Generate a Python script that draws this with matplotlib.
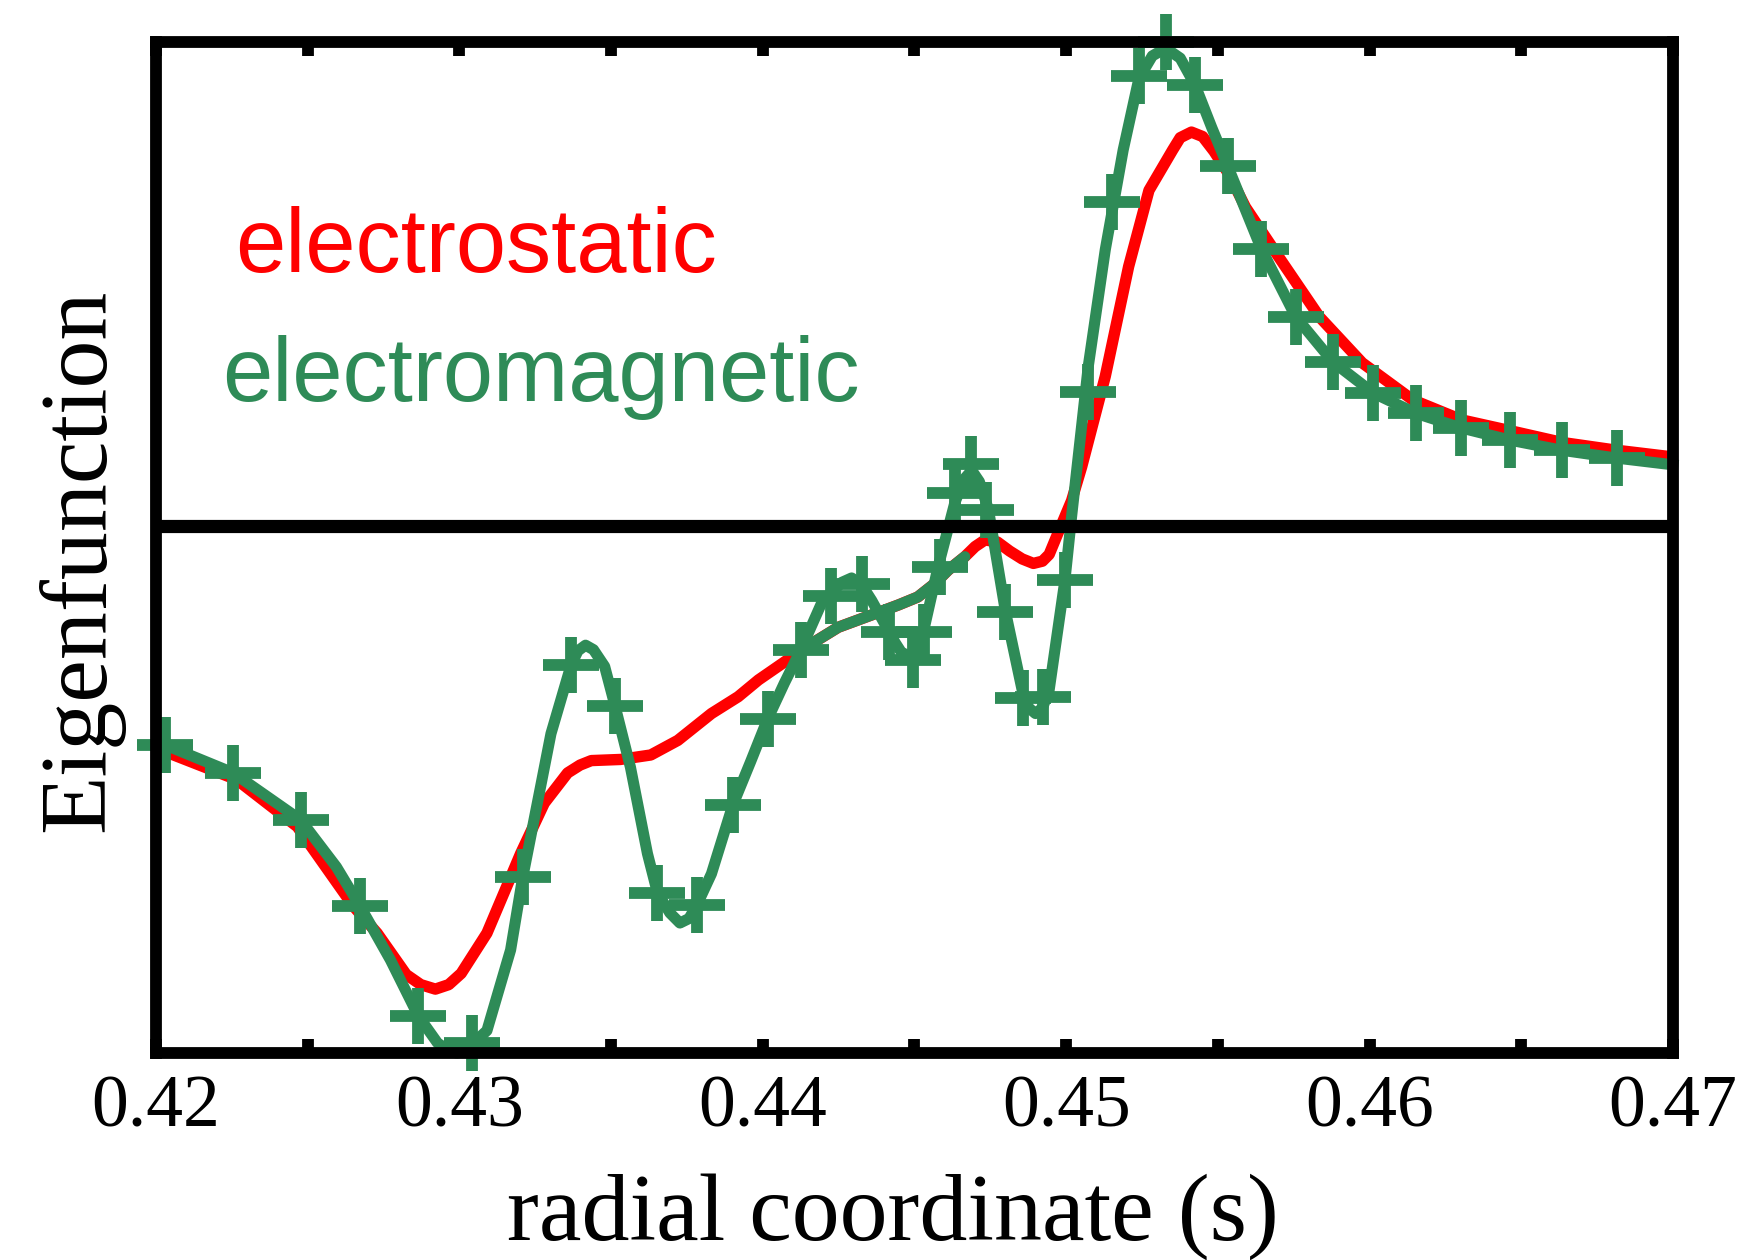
import matplotlib
matplotlib.use('Agg')
import matplotlib.pyplot as plt
from matplotlib.ticker import MultipleLocator

# electrostatic eigenfunction (red)
es_s = [0.42000, 0.42030, 0.42266, 0.42466, 0.42651, 0.42729, 0.42825, 0.42873,
        0.42921, 0.42965, 0.43006, 0.43091, 0.43202, 0.43280, 0.43357, 0.43398,
        0.43435, 0.43531, 0.43631, 0.43720, 0.43831, 0.43919, 0.43986, 0.44093,
        0.44171, 0.44249, 0.44359, 0.44448, 0.44511, 0.44567, 0.44611, 0.44666,
        0.44700, 0.44733, 0.44774, 0.44814, 0.44855, 0.44892, 0.44922, 0.44944,
        0.44973, 0.45018, 0.45051, 0.45129, 0.45206, 0.45273, 0.45351, 0.45376,
        0.45413, 0.45450, 0.45487, 0.45535, 0.45591, 0.45702, 0.45835, 0.45976,
        0.46142, 0.46305, 0.46471, 0.46634, 0.46815, 0.47000]
es_phi = [-1.98, -2.01, -2.26, -2.68, -3.39, -3.63, -4.00, -4.09,
          -4.13, -4.09, -3.99, -3.63, -2.92, -2.47, -2.20, -2.13,
          -2.09, -2.08, -2.04, -1.91, -1.67, -1.52, -1.37, -1.17,
          -1.03, -0.90, -0.79, -0.70, -0.63, -0.51, -0.39, -0.27,
          -0.18, -0.12, -0.14, -0.22, -0.29, -0.33, -0.31, -0.25,
          -0.06, 0.23, 0.53, 1.34, 2.32, 3.00, 3.36, 3.47,
          3.52, 3.48, 3.35, 3.15, 2.85, 2.40, 1.87, 1.46,
          1.13, 0.95, 0.85, 0.75, 0.68, 0.62]

# electromagnetic eigenfunction (green)
em_s = [0.42000, 0.42030, 0.42255, 0.42477, 0.42595, 0.42673, 0.42773, 0.42865,
        0.42928, 0.42965, 0.42991, 0.43017, 0.43043, 0.43091, 0.43169, 0.43209,
        0.43268, 0.43302, 0.43368, 0.43391, 0.43416, 0.43442, 0.43479, 0.43513,
        0.43564, 0.43620, 0.43653, 0.43694, 0.43727, 0.43757, 0.43783, 0.43831,
        0.43901, 0.43960, 0.44016, 0.44071, 0.44126, 0.44193, 0.44260, 0.44293,
        0.44326, 0.44359, 0.44437, 0.44456, 0.44482, 0.44504, 0.44533, 0.44578,
        0.44633, 0.44663, 0.44689, 0.44714, 0.44744, 0.44800, 0.44855, 0.44877,
        0.44899, 0.44922, 0.44944, 0.44996, 0.45018, 0.45073, 0.45129, 0.45188,
        0.45240, 0.45284, 0.45328, 0.45376, 0.45425, 0.45480, 0.45532, 0.45643,
        0.45757, 0.45879, 0.46013, 0.46153, 0.46301, 0.46464, 0.46634, 0.46815,
        0.47000]
em_phi = [-1.92, -1.95, -2.20, -2.62, -3.04, -3.39, -3.87, -4.37,
          -4.61, -4.68, -4.70, -4.69, -4.62, -4.50, -3.78, -3.13,
          -2.32, -1.85, -1.24, -1.11, -1.06, -1.10, -1.25, -1.60,
          -2.15, -2.92, -3.27, -3.45, -3.54, -3.50, -3.38, -3.10,
          -2.49, -2.10, -1.72, -1.40, -1.10, -0.69, -0.50, -0.46,
          -0.52, -0.66, -1.04, -1.12, -1.16, -1.12, -0.90, -0.36,
          0.21, 0.42, 0.50, 0.40, 0.15, -0.76, -1.46, -1.62,
          -1.67, -1.62, -1.46, -0.48, 0.09, 1.43, 2.47, 3.36,
          4.00, 4.20, 4.27, 4.18, 3.94, 3.56, 3.22, 2.48,
          1.87, 1.47, 1.19, 1.01, 0.88, 0.77, 0.68, 0.61,
          0.55]

# short smooth green piece lying on top of the red curve
em2_s = [0.44138, 0.44171, 0.44249, 0.44359, 0.44448, 0.44511, 0.44567, 0.44611, 0.44666]
em2_phi = [-1.08, -1.03, -0.90, -0.79, -0.70, -0.63, -0.51, -0.39, -0.27]

# '+' markers on the electromagnetic curve
mk_s = [0.42030, 0.42255, 0.42477, 0.42673, 0.42865, 0.43043, 0.43209, 0.43368,
        0.43513, 0.43653, 0.43783, 0.43901, 0.44016, 0.44126, 0.44226, 0.44326,
        0.44415, 0.44496, 0.44533, 0.44585, 0.44633, 0.44685, 0.44737, 0.44800,
        0.44859, 0.44925, 0.44996, 0.45073, 0.45151, 0.45240, 0.45328, 0.45425,
        0.45532, 0.45643, 0.45757, 0.45879, 0.46013, 0.46153, 0.46301, 0.46464,
        0.46634, 0.46815]
mk_phi = [-1.95, -2.20, -2.62, -3.39, -4.37, -4.61, -3.13, -1.24,
          -1.60, -3.27, -3.38, -2.49, -1.72, -1.10, -0.62, -0.51,
          -0.94, -1.19, -0.94, -0.36, 0.30, 0.56, 0.15, -0.76,
          -1.53, -1.52, -0.48, 1.20, 2.90, 4.02, 4.32, 3.94,
          3.22, 2.48, 1.87, 1.47, 1.19, 1.01, 0.88, 0.77,
          0.68, 0.61]

xticks = [0.42, 0.43, 0.44, 0.45, 0.46, 0.47]
xticklabels = ['0.42', '0.43', '0.44', '0.45', '0.46', '0.47']

red = '#ff0000'
green = '#2e8b57'
serif = ['Liberation Serif', 'DejaVu Serif']
sans = ['Liberation Sans', 'DejaVu Sans']

fig = plt.figure(figsize=(17.56, 12.6), dpi=100)
ax = fig.add_axes([0.0888, 0.1643, 0.8639, 0.8020])

ax.plot(es_s, es_phi, color=red, lw=8.2, solid_joinstyle='round',
        solid_capstyle='round', zorder=2)
ax.plot(em_s, em_phi, color=green, lw=8.0, solid_joinstyle='round', clip_on=False, zorder=3)
ax.plot(em2_s, em2_phi, color=green, lw=8.0, solid_joinstyle='round',
        solid_capstyle='round', zorder=3)
ax.plot(mk_s, mk_phi, ls='none', marker='+', ms=41, mew=8.5, color=green,
        clip_on=False, zorder=3)
ax.axhline(0, color='black', lw=9.5, zorder=4)

ax.set_xlim(0.42, 0.47)
ax.set_ylim(-4.70, 4.32)

ax.xaxis.set_major_locator(MultipleLocator(0.01))
ax.xaxis.set_minor_locator(MultipleLocator(0.005))
ax.set_xticks(xticks)
ax.set_xticklabels(xticklabels, fontfamily=serif, fontsize=53)
ax.tick_params(axis='x', which='both', direction='in', top=True, bottom=True,
               length=10, width=8.5, pad=16, color='black')
ax.set_yticks([])

for sp in ax.spines.values():
    sp.set_linewidth(8.5)
    sp.set_capstyle('projecting')
    sp.set_zorder(6)

fig.text(0.1338, 0.7841, 'electrostatic', color=red, fontsize=65,
         fontfamily=sans, ha='left', va='baseline')
fig.text(0.1264, 0.6817, 'electromagnetic', color=green, fontsize=65,
         fontfamily=sans, ha='left', va='baseline')

fig.text(0.5085, 0.0159, 'radial coordinate (s)', fontsize=69, fontfamily=serif,
         ha='center', va='baseline')
fig.text(0.0594, 0.5556, 'Eigenfunction', fontsize=69, fontfamily=serif,
         ha='center', va='baseline', rotation=90, rotation_mode='anchor')

fig.savefig('out.png', dpi=100)
